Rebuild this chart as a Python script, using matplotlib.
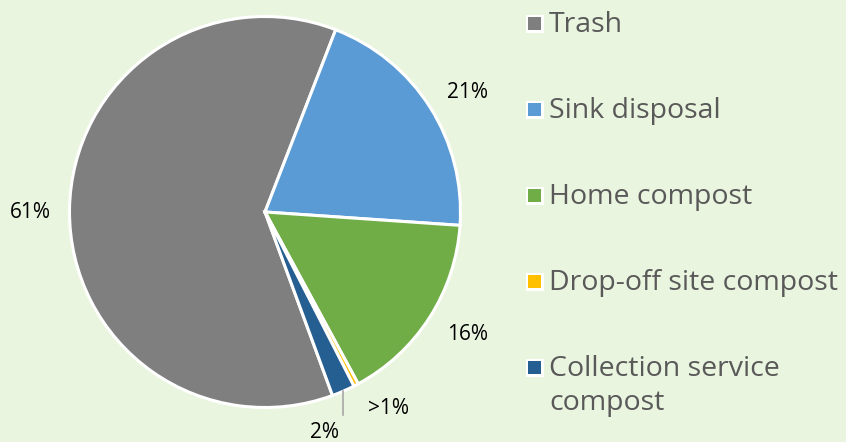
import matplotlib
matplotlib.use("Agg")
import matplotlib.pyplot as plt
import numpy as np
from matplotlib.patches import Rectangle

categories = ["Trash", "Sink disposal", "Home compost", "Drop-off site compost",
              "Collection service\ncompost"]
values = [61.5, 20.2, 16.0, 0.4, 1.9]
value_labels = ["61%", "21%", "16%", ">1%", "2%"]
colors = ["#7F7F7F", "#5B9BD5", "#70AD47", "#FFC000", "#255E91"]

BG = "#EAF5DF"
W, H = 846, 442
fig = plt.figure(figsize=(W / 100, H / 100), dpi=100, facecolor=BG)

# pie axes: scale 195.5 px per unit, center at (265, 212 from top)
R = 195.5
cx, cy = 265, 212
axw = 530
ax = fig.add_axes([0, 0, axw / W, 1])
ax.set_facecolor(BG)

wedges, _ = ax.pie(values, colors=colors, startangle=90 - 159.8, counterclock=False,
                   radius=1.0, center=(0, 0), frame=True,
                   wedgeprops=dict(edgecolor="white", linewidth=2.2))
ax.set_xlim(-cx / R, (axw - cx) / R)
ax.set_ylim(-(H - cy) / R, cy / R)
ax.set_aspect("auto")
ax.axis("off")

# label layout: (radius factor, angle offset in degrees)
layout = [(1.20, 0.6), (1.204, -1.9), (1.21, 1.4), (1.19, 4.4), (None, 0.0)]
for w, lab, (rf, da) in zip(wedges, value_labels, layout):
    mid = np.deg2rad((w.theta1 + w.theta2) / 2)
    if rf is None:
        xm, ym = np.cos(mid), np.sin(mid)
        ax.plot([xm, xm], [ym, -1.04], color="#A6A6A6", lw=1.2)
        ax.text(xm - 0.095, -1.075, lab, ha="center", va="top", fontsize=15,
                family="Open Sans", color="#000000")
    else:
        a = mid + np.deg2rad(da)
        ax.text(rf * np.cos(a), rf * np.sin(a), lab, ha="center", va="center",
                fontsize=15, family="Open Sans", color="#000000")

# legend (manual layout)
top_baseline = 32.3
step = 86
line_step = 34
for i, (cat, col) in enumerate(zip(categories, colors)):
    yb = top_baseline + i * step
    sq_cy = yb - 8.5
    fig.patches.append(Rectangle(((534.5 - 9) / W, 1 - (sq_cy + 9) / H), 18 / W, 18 / H,
                                 transform=fig.transFigure, facecolor="white",
                                 edgecolor="none"))
    fig.patches.append(Rectangle(((534.5 - 6.5) / W, 1 - (sq_cy + 6.5) / H), 13 / W, 13 / H,
                                 transform=fig.transFigure, facecolor=col,
                                 edgecolor="none"))
    for j, line in enumerate(cat.split("\n")):
        fig.text(549 / W, 1 - (yb + j * line_step) / H, line, ha="left", va="baseline",
                 fontsize=20.5, family="Open Sans", color="#595959")

fig.savefig("out.png", dpi=100, facecolor=BG)
